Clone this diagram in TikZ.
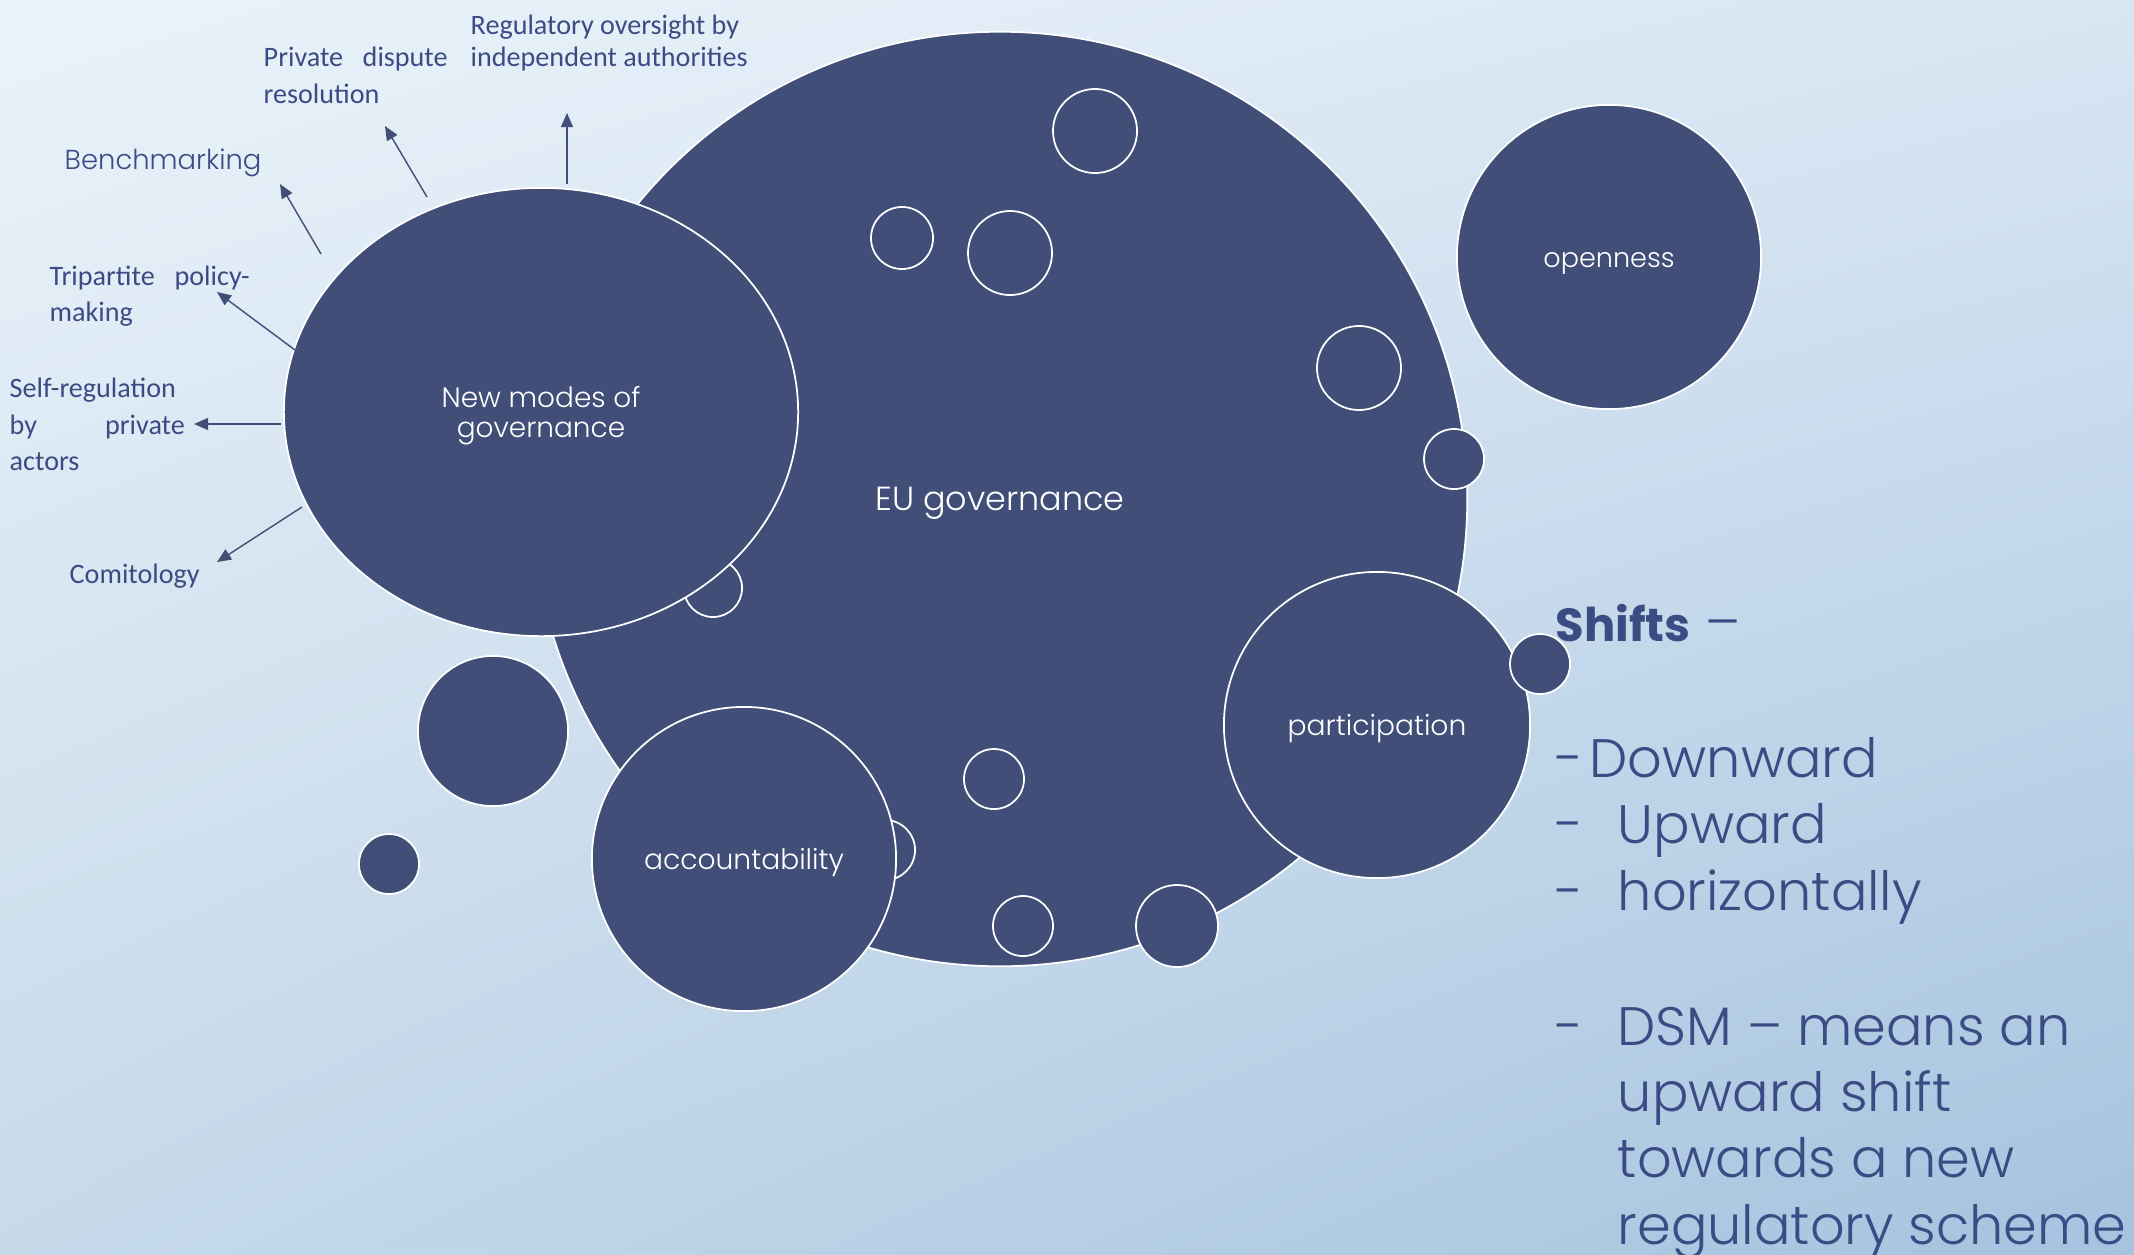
\documentclass[tikz,border=0pt]{standalone}
\usepackage{fontspec}
\usetikzlibrary{shapes.geometric,arrows.meta,shadings}
\setmainfont{Carlito}
\IfFontExistsTF{Poppins Light}{\newfontfamily\gothic{Poppins Light}}{\newfontfamily\gothic{Poppins}}
\IfFontExistsTF{Poppins Bold}{\newfontfamily\gothicb{Poppins Bold}}{\newfontfamily\gothicb{Poppins}[FakeBold=2]}
\definecolor{bubble}{HTML}{414F78}
\definecolor{navy}{HTML}{3B4B84}
\definecolor{bgTL}{HTML}{EBF3FA}
\definecolor{bgTR}{HTML}{D8E6F3}
\definecolor{bgBL}{HTML}{C6DAEA}
\definecolor{bgBR}{HTML}{A5C3DF}
\tikzset{
  bub/.style={circle, fill=bubble, draw=white, line width=0.5pt, inner sep=0pt, text=white, text height=5.8pt, text depth=0pt, font=\gothic\fontsize{8}{10}\selectfont},
  lbl/.style={anchor=base west, inner sep=0pt, text=navy, font=\fontsize{8}{10}\selectfont},
  shiftline/.style={anchor=base west, inner sep=0pt, text=navy, font=\gothic\fontsize{15.4}{18}\selectfont},
  arr/.style={-{Triangle[length=4pt,width=3.4pt]}, draw=bubble, line width=0.4pt}
}
\begin{document}
\begin{tikzpicture}[x=0.01cm, y=-0.01cm]
\useasboundingbox (0,0) rectangle (2134,1254);
\clip (0,0) rectangle (2134,1254);
\shade[upper left=bgTL, upper right=bgTR, lower left=bgBL, lower right=bgBR] (0,0) rectangle (2134,1254);

% main bubble
\node[bub, minimum size=9.34cm, text height=6.8pt, font=\gothic\fontsize{9.5}{11}\selectfont] (eu) at (1000,499) {EU governance};
% small bubbles inside
\node[bub, minimum size=0.84cm] (s1) at (1095,131) {};
\node[bub, minimum size=0.62cm] (s2) at (902,238) {};
\node[bub, minimum size=0.84cm] (s3) at (1010,253) {};
\node[bub, minimum size=0.84cm] (s4) at (1359,368) {};
\node[bub, minimum size=0.60cm] (s5) at (1454,459) {};
\node[bub, minimum size=0.58cm] (s6) at (713,588) {};
\node[bub, minimum size=0.60cm] (s7) at (994,779) {};
\node[bub, minimum size=0.60cm] (s8) at (1023,926) {};
\node[bub, minimum size=0.60cm] (s9) at (885,850) {};
\node[bub, minimum size=0.82cm] (s10) at (1177,926) {};

% big satellite bubbles
\node[bub, ellipse, minimum width=5.14cm, minimum height=4.48cm, align=center, text height=, text depth=0pt, font=\gothic\fontsize{7.95}{8.5}\selectfont] (nmg) at (541,412) {New modes of\\governance};
\node[bub, minimum size=3.04cm] (acc) at (744,859) {accountability};
\node[bub, minimum size=3.06cm] (par) at (1377,725) {participation};
\node[bub, minimum size=0.60cm] (s11) at (1540,664) {};
\node[bub, minimum size=3.04cm, font=\gothic\fontsize{7.7}{10}\selectfont] (open) at (1609,257) {openness};
\node[bub, minimum size=1.50cm] (d1) at (493,731) {};
\node[bub, minimum size=0.60cm] (d2) at (389,864) {};

% arrows from new modes of governance
\coordinate (a1s) at (567,184); \coordinate (a1e) at (567,113);
\coordinate (a2s) at (427,197); \coordinate (a2e) at (385,126);
\coordinate (a3s) at (321,254); \coordinate (a3e) at (280,184);
\coordinate (a4s) at (295,350); \coordinate (a4e) at (217,292);
\coordinate (a5s) at (281,424); \coordinate (a5e) at (194,424);
\coordinate (a6s) at (302,507); \coordinate (a6e) at (217,562);
\draw[arr] (a1s) -- (a1e);
\draw[arr] (a2s) -- (a2e);
\draw[arr] (a3s) -- (a3e);
\draw[arr] (a4s) -- (a4e);
\draw[arr] (a5s) -- (a5e);
\draw[arr] (a6s) -- (a6e);

% labels
\node[lbl] (reg1) at (470,34) {Regulatory oversight by};
\node[lbl] (reg2) at (470,66) {independent authorities};
\node[lbl] (pri1) at (263,66) {\makebox[52.3pt][s]{Private dispute}};
\node[lbl] (pri2) at (263,103) {resolution};
\node[lbl, font=\gothic\fontsize{7.8}{10}\selectfont] (bench) at (64,169) {Benchmarking};
\node[lbl] (tri1) at (49,285) {\makebox[56.9pt][s]{Tripartite policy-}};
\node[lbl] (tri2) at (49,321) {making};
\node[lbl] (self1) at (9,397) {Self-regulation};
\node[lbl] (self2) at (9,434) {\makebox[49.8pt][s]{by private}};
\node[lbl] (self3) at (9,470) {actors};
\node[lbl] (comi) at (69,583) {Comitology};

% right-hand text
\node[shiftline] (shifts) at (1555,641) {{\gothicb\fontsize{13.2}{16}\selectfont Shifts} –};
\node[shiftline] (dash1) at (1555,777) {-};
\node[shiftline] (down) at (1589,777) {Downward};
\node[shiftline] (dash2) at (1555,843) {-};
\node[shiftline] (up) at (1617,843) {Upward};
\node[shiftline] (dash3) at (1555,910) {-};
\node[shiftline] (hor) at (1617,910) {horizontally};
\node[shiftline] (dash4) at (1555,1045) {-};
\node[shiftline] (dsm1) at (1617,1045) {DSM – means an};
\node[shiftline] (dsm2) at (1617,1111) {upward shift};
\node[shiftline] (dsm3) at (1617,1177) {towards a new};
\node[shiftline] (dsm4) at (1617,1244) {regulatory scheme};
\end{tikzpicture}
\end{document}
